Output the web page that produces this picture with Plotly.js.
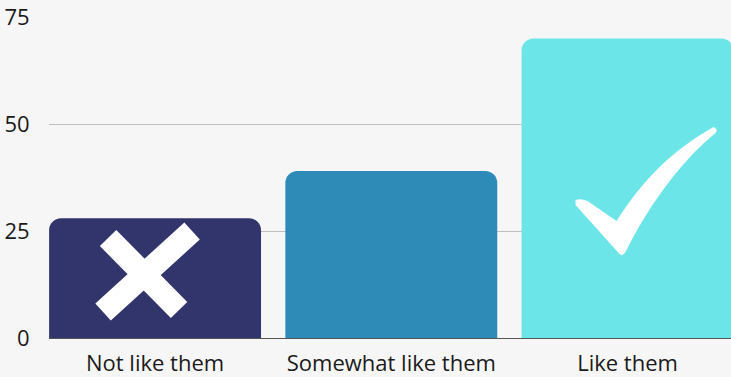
<!DOCTYPE html>
<html>
<head>
<meta charset="utf-8">
<script src="https://cdn.plot.ly/plotly-3.0.1.min.js"></script>
<style>html,body{margin:0;padding:0;background:#f6f6f6;}#chart{width:731px;height:377px;}</style>
</head>
<body>
<div id="chart"></div>
<script>
const categories = ["Not like them", "Somewhat like them", "Like them"];
const values = [28, 39, 70];
const barColors = ["#31356b", "#2e8bb8", "#6be5e8"];
const yTicks = [0, 25, 50, 75];

const trace = {
  type: "bar",
  x: categories,
  y: values,
  marker: { color: barColors, cornerradius: 12 },
  hoverinfo: "none"
};

const white = "#ffffff";
const shapes = [
  // X mark on first bar (pixel offsets from bar centre at y=0)
  { type: "line", xref: "x", yref: "y", xsizemode: "pixel", ysizemode: "pixel",
    xanchor: categories[0], yanchor: 0, x0: -47, y0: 100, x1: 24, y1: 28,
    line: { color: white, width: 23 } },
  { type: "line", xref: "x", yref: "y", xsizemode: "pixel", ysizemode: "pixel",
    xanchor: categories[0], yanchor: 0, x0: 37, y0: 107, x1: -52, y1: 26,
    line: { color: white, width: 23 } },
  // check mark on third bar
  { type: "path", xref: "x", yref: "y", xsizemode: "pixel", ysizemode: "pixel",
    xanchor: categories[2], yanchor: 0,
    path: "M -52,138 Q -47,140 -40,137 L -11,117 C 15,158 45,188 86,211 Q 91,209 88,205 C 55,178 25,138 1,92 Q -4,80 -8,84 L -52,133 Z",
    fillcolor: white, line: { width: 0 } }
];

const layout = {
  width: 731, height: 377,
  margin: { l: 49, r: 0, t: 17, b: 39 },
  paper_bgcolor: "#f6f6f6",
  plot_bgcolor: "#f6f6f6",
  showlegend: false,
  bargap: 0.103,
  font: { family: "Open Sans, Noto Sans, sans-serif", size: 22, color: "#1a1a1a" },
  xaxis: {
    type: "category",
    range: [-0.449, 2.438],
    showgrid: false,
    ticks: "outside", ticklen: 6, tickcolor: "rgba(0,0,0,0)",
    tickfont: { size: 22, color: "#1a1a1a" },
    showline: false, zeroline: false
  },
  yaxis: {
    range: [0, 75],
    tickvals: yTicks,
    ticktext: yTicks.map(String),
    showgrid: true, gridcolor: "#bdbdbd", gridwidth: 1,
    zeroline: true, zerolinecolor: "#555555", zerolinewidth: 1,
    ticks: "outside", ticklen: 14, tickcolor: "rgba(0,0,0,0)",
    tickfont: { size: 22, color: "#1a1a1a" }
  },
  shapes: shapes
};

Plotly.newPlot("chart", [trace], layout, { displayModeBar: false, staticPlot: true });
</script>
</body>
</html>
